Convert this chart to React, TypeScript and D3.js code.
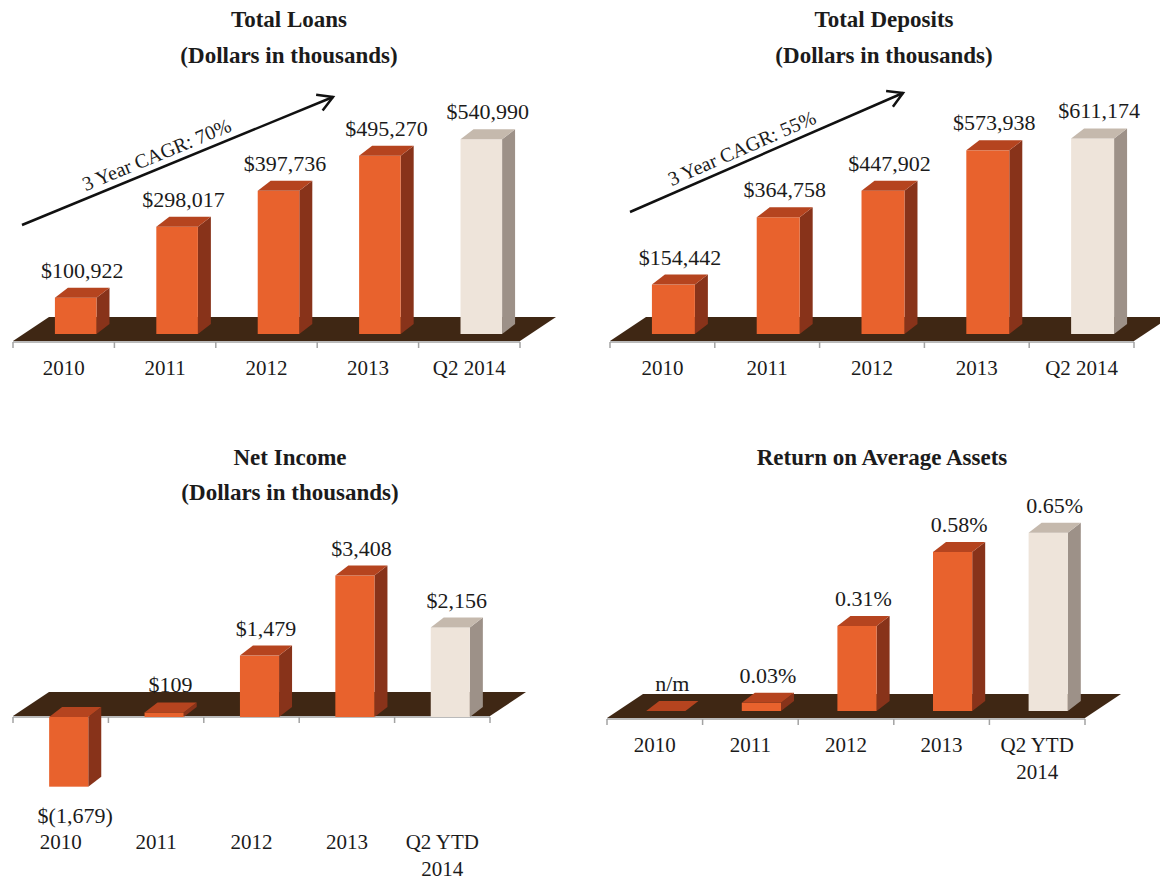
import React from "react";
import * as d3 from "d3";

// ---------- data ----------
const yearCategories = ["2010", "2011", "2012", "2013", "Q2 2014"];
const ytdCategories = ["2010", "2011", "2012", "2013", "Q2 YTD|2014"];

const loanValues = [100922, 298017, 397736, 495270, 540990];
const depositValues = [154442, 364758, 447902, 573938, 611174];
const netIncomeValues = [-1679, 109, 1479, 3408, 2156];
const roaaValues: (number | null)[] = [null, 0.03, 0.31, 0.58, 0.65];

const fmtComma = d3.format(",");
const dollarLabel = (v: number | null) =>
  v == null ? "n/m" : v < 0 ? `$(${fmtComma(-v)})` : `$${fmtComma(v)}`;
const pctLabel = (v: number | null) => (v == null ? "n/m" : `${v.toFixed(2)}%`);

// ---------- style ----------
const FONT = "'Liberation Serif', 'Times New Roman', serif";
const TEXT = "#1b1b1b";
const ORANGE = { front: "#E8622D", side: "#88331A", top: "#B5441F" };
const CREAM = { front: "#EEE4DA", side: "#9D9188", top: "#C5B9AD" };
const FLOOR = "#3F2714";
const AXIS = "#A3A3A3";
const FLOOR_D = { dx: 36, dy: -24 };
const BAR_D = { dx: 13, dy: -10 };

type Cfg = {
  title: string[];
  titleX: number;
  titleY: number[];
  cats: string[];
  values: (number | null)[];
  label: (v: number | null) => string;
  x0: number;
  x1: number;
  floorY: number;
  domain: [number, number];
  range: [number, number];
  barShift: number;
  catY: number;
  arrow?: { from: [number, number]; to: [number, number]; text: string; t: number };
};

const panels: Cfg[] = [
  {
    title: ["Total Loans", "(Dollars in thousands)"],
    titleX: 289,
    titleY: [27, 63],
    cats: yearCategories,
    values: loanValues,
    label: dollarLabel,
    x0: 13,
    x1: 520,
    floorY: 341,
    domain: [0, 600000],
    range: [334, 118],
    barShift: 12,
    catY: 375,
    arrow: { from: [22, 225], to: [333, 97], text: "3 Year CAGR: 70%", t: 0.45 },
  },
  {
    title: ["Total Deposits", "(Dollars in thousands)"],
    titleX: 884,
    titleY: [27, 63],
    cats: yearCategories,
    values: depositValues,
    label: dollarLabel,
    x0: 610,
    x1: 1134,
    floorY: 341,
    domain: [0, 700000],
    range: [334, 110],
    barShift: 11,
    catY: 375,
    arrow: { from: [630, 212], to: [903, 93], text: "3 Year CAGR: 55%", t: 0.43 },
  },
  {
    title: ["Net Income", "(Dollars in thousands)"],
    titleX: 290,
    titleY: [465, 500],
    cats: ytdCategories,
    values: netIncomeValues,
    label: dollarLabel,
    x0: 13,
    x1: 490,
    floorY: 716,
    domain: [0, 4000],
    range: [717, 551],
    barShift: 8,
    catY: 849,
  },
  {
    title: ["Return on Average Assets"],
    titleX: 882,
    titleY: [465],
    cats: ytdCategories,
    values: roaaValues,
    label: pctLabel,
    x0: 607,
    x1: 1085,
    floorY: 718,
    domain: [0, 0.7],
    range: [711, 519],
    barShift: 11,
    catY: 752,
  },
];

function Bar3D({ x, w, yTop, yBot, colors, topOnly }: any) {
  const { dx, dy } = BAR_D;
  const top = `M${x},${yTop}L${x + w},${yTop}L${x + w + dx},${yTop + dy}L${x + dx},${yTop + dy}Z`;
  const side = `M${x + w},${yTop}L${x + w + dx},${yTop + dy}L${x + w + dx},${yBot + dy}L${x + w},${yBot}Z`;
  return (
    <g>
      {!topOnly && <path d={side} fill={colors.side} />}
      {!topOnly && <rect x={x} y={yTop} width={w} height={Math.max(0, yBot - yTop)} fill={colors.front} />}
      <path d={top} fill={topOnly ? ORANGE.top : colors.top} />
    </g>
  );
}

function Panel({ cfg }: { cfg: Cfg }) {
  const x = d3.scaleBand<string>().domain(cfg.cats).range([cfg.x0, cfg.x1]).padding(0);
  const y = d3.scaleLinear().domain(cfg.domain).range(cfg.range);
  const bw = x.bandwidth() * 0.41;
  const y0 = y(0);
  const { dx, dy } = FLOOR_D;
  const fy = cfg.floorY;
  const floor = `M${cfg.x0},${fy}L${cfg.x1},${fy}L${cfg.x1 + dx},${fy + dy}L${cfg.x0 + dx},${fy + dy}Z`;
  const ticks = [...cfg.cats.map((c) => x(c) as number), cfg.x1];

  let arrowEls: any = null;
  if (cfg.arrow) {
    const [sx, sy] = cfg.arrow.from;
    const [tx, ty] = cfg.arrow.to;
    const len = Math.hypot(tx - sx, ty - sy);
    const ux = (tx - sx) / len;
    const uy = (ty - sy) / len;
    const ang = (Math.atan2(ty - sy, tx - sx) * 180) / Math.PI;
    const head = 17;
    const a = (30 * Math.PI) / 180;
    const rot = (s: number) => [
      tx - head * (ux * Math.cos(s * a) - uy * Math.sin(s * a)),
      ty - head * (ux * Math.sin(s * a) + uy * Math.cos(s * a)),
    ];
    const h1 = rot(1);
    const h2 = rot(-1);
    const mx = sx + (tx - sx) * cfg.arrow.t;
    const my = sy + (ty - sy) * cfg.arrow.t;
    const px = uy;
    const py = -ux;
    const off = 7;
    arrowEls = (
      <g>
        <line x1={sx} y1={sy} x2={tx} y2={ty} stroke="#111" strokeWidth={2.5} />
        <path
          d={`M${h1[0]},${h1[1]}L${tx},${ty}L${h2[0]},${h2[1]}`}
          fill="none"
          stroke="#111"
          strokeWidth={2.5}
        />
        <text
          x={mx + px * off}
          y={my + py * off}
          transform={`rotate(${ang},${mx + px * off},${my + py * off})`}
          textAnchor="middle"
          fontSize={20}
          fontFamily={FONT}
          fill={TEXT}
        >
          {cfg.arrow.text}
        </text>
      </g>
    );
  }

  return (
    <g>
      {cfg.title.map((t, i) => (
        <text
          key={i}
          x={cfg.titleX}
          y={cfg.titleY[i]}
          textAnchor="middle"
          fontSize={23}
          fontWeight="bold"
          fontFamily={FONT}
          fill={TEXT}
        >
          {t}
        </text>
      ))}
      <path d={floor} fill={FLOOR} />
      <line x1={cfg.x0} y1={fy + 1} x2={cfg.x1} y2={fy + 1} stroke={AXIS} strokeWidth={1.5} />
      {ticks.map((t, i) => (
        <line key={i} x1={t} y1={fy + 1} x2={t} y2={fy + 7} stroke={AXIS} strokeWidth={1.5} />
      ))}
      {cfg.values.map((v, i) => {
        const c = cfg.cats[i];
        const bx = (x(c) as number) + x.bandwidth() / 2 + cfg.barShift - bw / 2;
        const val = v == null ? 0 : v;
        const yv = y(val);
        const yTop = Math.min(y0, yv);
        const yBot = Math.max(y0, yv);
        const colors = i === cfg.values.length - 1 ? CREAM : ORANGE;
        return (
          <Bar3D key={c} x={bx} w={bw} yTop={yTop} yBot={yBot} colors={colors} topOnly={v == null} />
        );
      })}
      {cfg.values.map((v, i) => {
        const c = cfg.cats[i];
        const cx = (x(c) as number) + x.bandwidth() / 2 + cfg.barShift + BAR_D.dx / 2;
        const val = v == null ? 0 : v;
        const yv = y(val);
        const ly = val < 0 ? yv + 36 : yv - 20;
        return (
          <text
            key={"l" + c}
            x={cx}
            y={ly}
            textAnchor="middle"
            fontSize={22}
            fontFamily={FONT}
            fill={TEXT}
          >
            {cfg.label(v)}
          </text>
        );
      })}
      {cfg.cats.map((c) => {
        const lines = c.split("|");
        const cx = (x(c) as number) + x.bandwidth() / 2;
        return (
          <text
            key={"c" + c}
            x={cx}
            y={cfg.catY}
            textAnchor="middle"
            fontSize={21}
            fontFamily={FONT}
            fill={TEXT}
          >
            {lines.map((ln, j) => (
              <tspan key={j} x={cx} dy={j === 0 ? 0 : 27}>
                {ln}
              </tspan>
            ))}
          </text>
        );
      })}
      {arrowEls}
    </g>
  );
}

export default function App() {
  return (
    <svg
      width={1160}
      height={881}
      viewBox="0 0 1160 881"
      style={{ position: "absolute", left: 0, top: 0, background: "#fff" }}
    >
      <rect width={1160} height={881} fill="#fff" />
      {panels.map((p, i) => (
        <Panel key={i} cfg={p} />
      ))}
    </svg>
  );
}
